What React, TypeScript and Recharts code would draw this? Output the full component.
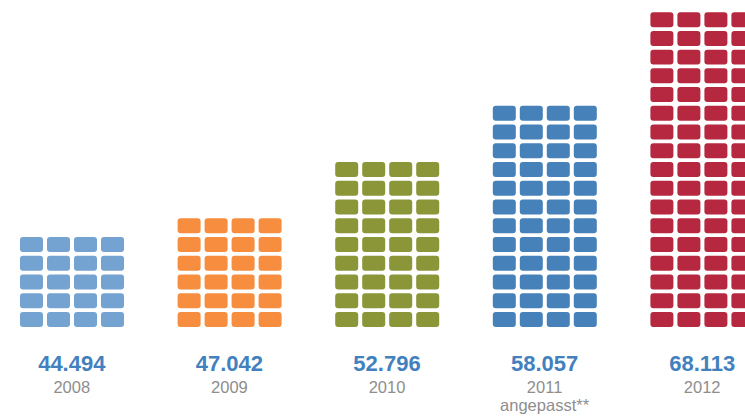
import { BarChart, Bar, XAxis, YAxis } from 'recharts'

const years = ['2008', '2009', '2010', '2011', '2012']
const totals = ['44.494', '47.042', '52.796', '58.057', '68.113']
const notes = ['', '', '', 'angepasst**', '']
const rows = [5, 6, 9, 12, 17]
const colors = ['#74a3d1', '#f68d3f', '#8a9638', '#4681ba', '#b6283f']

const columns = ['c1', 'c2', 'c3', 'c4']

// every tile column of a year has the same number of rows
const data = years.map((year, i) => ({
  year,
  total: totals[i],
  note: notes[i],
  rows: rows[i],
  color: colors[i],
  c1: rows[i],
  c2: rows[i],
  c3: rows[i],
  c4: rows[i],
}))

const FONT = '"Liberation Sans", Arial, sans-serif'
const GAP = 3.75

// draws one column of the bar as a stack of rounded tiles
function TileColumn(props: any) {
  const { x, y, width, height, payload } = props
  const count = payload.rows
  if (!count || !height) return null
  const pitch = height / count
  const tiles = []
  for (let k = 0; k < count; k++) {
    const bottom = y + height - k * pitch
    tiles.push(
      <rect
        key={k}
        x={x}
        y={bottom - pitch + GAP}
        width={width}
        height={pitch - GAP}
        rx={3}
        ry={3}
        fill={payload.color}
      />
    )
  }
  return <g>{tiles}</g>
}

function YearTick(props: any) {
  const { x, y, index } = props
  const d = data[index]
  return (
    <g fontFamily={FONT} textAnchor="middle">
      <text x={x} y={y + 44} fontSize={22} fontWeight="bold" fill="#4281bd">
        {d.total}
      </text>
      <text x={x} y={y + 66} fontSize={16.5} fill="#8e8e8e">
        {d.year}
      </text>
      {d.note && (
        <text x={x} y={y + 84} fontSize={16.5} fill="#8e8e8e">
          {d.note}
        </text>
      )}
    </g>
  )
}

export default function App() {
  return (
    <div
      style={{
        position: 'absolute',
        left: 0,
        top: 0,
        width: 745,
        height: 417,
        overflow: 'hidden',
        background: '#fff',
      }}
    >
      <div style={{ position: 'absolute', left: -7, top: 0 }}>
        <BarChart
          width={788}
          height={417}
          data={data}
          margin={{ top: 8.4, right: 0, left: 0, bottom: 0 }}
          barSize={23}
          barGap={4}
        >
          <XAxis
            dataKey="year"
            axisLine={false}
            tickLine={false}
            tickSize={0}
            tickMargin={0}
            height={90}
            interval={0}
            tick={<YearTick />}
          />
          <YAxis hide domain={[0, 17]} allowDataOverflow />
          {columns.map((c) => (
            <Bar key={c} dataKey={c} shape={<TileColumn />} isAnimationActive={false} />
          ))}
        </BarChart>
      </div>
    </div>
  )
}
